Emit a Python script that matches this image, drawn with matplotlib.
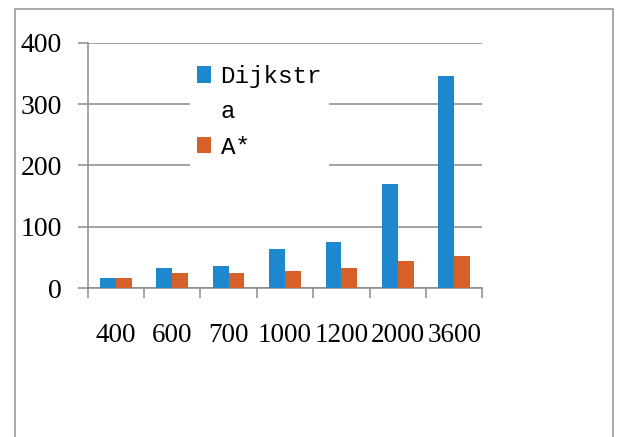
import matplotlib
matplotlib.use("Agg")
import matplotlib.pyplot as plt
from matplotlib.patches import Rectangle, Patch
import numpy as np

# Node counts and search times for the two path-finding algorithms
categories = ["400", "600", "700", "1000", "1200", "2000", "3600"]
dijkstra = [16, 32, 36, 63, 75, 169, 345]
astar = [16, 25, 25, 28, 32, 44, 52]
y_ticks = [0, 100, 200, 300, 400]

BLUE = "#1e88cf"
ORANGE = "#d6602a"
GRID = "#8a8a8a"

W, H = 617, 437
fig = plt.figure(figsize=(W / 100, H / 100), dpi=100)
fig.patch.set_facecolor("white")

# outer chart frame (open at the bottom)
fig.patches.append(Rectangle((15 / W, -0.05), (612.5 - 15) / W, 1.05 - 8.5 / H,
                             transform=fig.transFigure, fill=False,
                             edgecolor="#9a9a9a", linewidth=1.2))

left, right = 87.5 / W, 482.5 / W
bottom, top = 1 - 288 / H, 1 - 42.7 / H
ax = fig.add_axes([left, bottom, right - left, top - bottom])

x = np.arange(len(categories))
bw = 0.28
ax.bar(x - bw / 2, dijkstra, width=bw, color=BLUE, zorder=3)
ax.bar(x + bw / 2, astar, width=bw, color=ORANGE, zorder=3)

ax.set_xlim(-0.5, len(categories) - 0.5)
ax.set_ylim(0, 400)
ax.set_yticks(y_ticks)
ax.grid(axis="y", color=GRID, linewidth=1.1, zorder=1)
ax.set_axisbelow(True)

for s in ["top", "right"]:
    ax.spines[s].set_visible(False)
for s in ["left", "bottom"]:
    ax.spines[s].set_color(GRID)
    ax.spines[s].set_linewidth(1.1)

ytick_font = {"family": "Liberation Serif", "size": 20}
xtick_font = {"family": "Liberation Serif", "size": 19.5}
ax.set_yticklabels([str(v) for v in y_ticks], fontdict=ytick_font)
ax.tick_params(axis="y", length=7.2, width=1.1, color=GRID, pad=11)

# category boundaries carry the tick marks, centres carry the labels
ax.set_xticks(np.arange(-0.5, len(categories), 1.0))
ax.set_xticklabels([])
ax.tick_params(axis="x", which="major", direction="out", length=7.2,
               width=1.1, color=GRID)
ax.set_xticks(x, minor=True)
ax.set_xticklabels(categories, minor=True, fontdict=xtick_font)
ax.tick_params(axis="x", which="minor", length=0, pad=25)

handles = [Patch(facecolor=BLUE, edgecolor="none"),
           Patch(facecolor="none", edgecolor="none"),
           Patch(facecolor=ORANGE, edgecolor="none")]
labels = ["Dijkstr", "a", "A*"]
leg = ax.legend(handles, labels, loc="upper left",
                bbox_to_anchor=(190 / W, 1 - 58 / H),
                bbox_transform=fig.transFigure,
                prop={"family": "Liberation Mono", "size": 17.5},
                frameon=True, fancybox=False, framealpha=1,
                facecolor="white", edgecolor="none",
                handlelength=0.58, handleheight=0.68, handletextpad=0.38,
                labelspacing=0.5, borderpad=0.3, borderaxespad=0)
leg.set_zorder(5)

fig.savefig("out.png", dpi=100, facecolor="white")
